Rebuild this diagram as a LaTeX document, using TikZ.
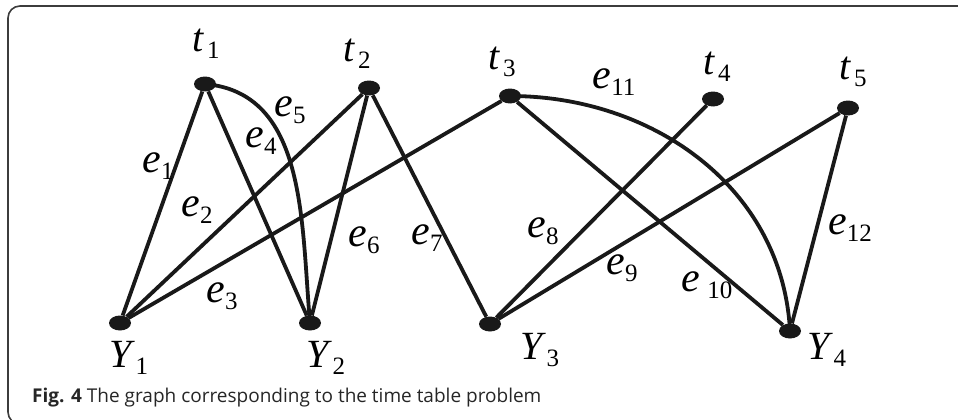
\documentclass[tikz,border=0pt]{standalone}
\usepackage{fontspec}
\setmainfont{Liberation Serif}
\newfontfamily\capfont{Open Sans}
\usetikzlibrary{shapes.geometric}
\definecolor{framegray}{RGB}{60,60,60}
\newcommand{\lbl}[3][1pt]{\textit{#2}\kern#1\raisebox{-7pt}{\fontsize{25}{25}\selectfont #3}}

\begin{document}
\begin{tikzpicture}[x=1pt, y=-1pt,
  vertex/.style={ellipse, fill=black!90, minimum width=22pt, minimum height=15pt, inner sep=0pt},
  edge/.style={line width=3.8pt, black!90},
  vlabel/.style={font=\fontsize{40}{40}\selectfont, inner sep=0pt},
  elabel/.style={font=\fontsize{42}{42}\selectfont, inner sep=0pt}]
  \useasboundingbox (0,0) rectangle (958,420);

  % Frame
  \begin{scope}
    \clip (0,0) rectangle (958,420);
    \draw[framegray, line width=1.6pt, rounded corners=12pt] (970,6) -- (8,6) -- (8,424) -- (970,424);
  \end{scope}

  % Vertices
  \node[vertex] (t1) at (205,84)  {};
  \node[vertex] (t2) at (369,88)  {};
  \node[vertex] (t3) at (510,96)  {};
  \node[vertex] (t4) at (713,99)  {};
  \node[vertex] (t5) at (848,108) {};
  \node[vertex] (Y1) at (120,323) {};
  \node[vertex] (Y2) at (310,323) {};
  \node[vertex] (Y3) at (490,324) {};
  \node[vertex] (Y4) at (790,331) {};

  % Edges
  \draw[edge] (t1) -- (Y1);
  \draw[edge] (t2) -- (Y1);
  \draw[edge] (t3) -- (Y1);
  \draw[edge] (t1) -- (Y2);
  \draw[edge] (t1.center) to[out=-5, in=95] (Y2.center);
  \draw[edge] (t2) -- (Y2);
  \draw[edge] (t2) -- (Y3);
  \draw[edge] (t4) -- (Y3);
  \draw[edge] (t5) -- (Y3);
  \draw[edge] (t3) -- (Y4);
  \draw[edge] (t3.center) to[out=0, in=93] (Y4.center);
  \draw[edge] (t5) -- (Y4);

  % Vertex labels
  \node[vlabel] (lt1) at (206,44) {\lbl[3pt]{t}{1}};
  \node[vlabel] (lt2) at (357,54) {\lbl[3pt]{t}{2}};
  \node[vlabel] (lt3) at (502,62) {\lbl[3pt]{t}{3}};
  \node[vlabel] (lt4) at (717,67) {\lbl[3pt]{t}{4}};
  \node[vlabel] (lt5) at (853,72) {\lbl[3pt]{t}{5}};
  \node[vlabel] (lY1) at (129,358) {\lbl[0pt]{Y}{1}};
  \node[vlabel] (lY2) at (326,358) {\lbl[0pt]{Y}{2}};
  \node[vlabel] (lY3) at (540,350) {\lbl[0pt]{Y}{3}};
  \node[vlabel] (lY4) at (827,350) {\lbl[0pt]{Y}{4}};

  % Edge labels
  \node[elabel] (le1)  at (158,166) {\lbl[0pt]{e}{1}};
  \node[elabel] (le2)  at (197,210) {\lbl[0pt]{e}{2}};
  \node[elabel] (le3)  at (222,296) {\lbl[0pt]{e}{3}};
  \node[elabel] (le4)  at (261,141) {\lbl[0pt]{e}{4}};
  \node[elabel] (le5)  at (290,110) {\lbl[0pt]{e}{5}};
  \node[elabel] (le6)  at (364,240) {\lbl[0pt]{e}{6}};
  \node[elabel] (le7)  at (427,238) {\lbl[0pt]{e}{7}};
  \node[elabel] (le8)  at (543,231) {\lbl[0pt]{e}{8}};
  \node[elabel] (le9)  at (622,268) {\lbl[0pt]{e}{9}};
  \node[elabel] (le10) at (707,285) {\lbl[7pt]{e}{10}};
  \node[elabel] (le11) at (614,82)  {\lbl[0pt]{e}{11}};
  \node[elabel] (le12) at (850,228) {\lbl[0pt]{e}{12}};

  % Caption
  \node[anchor=base west, inner sep=0pt, font=\capfont\fontsize{19}{19}\selectfont, black!85] (cap) at (32,402)
    {\textbf{Fig. 4} The graph corresponding to the time table problem};
\end{tikzpicture}
\end{document}
